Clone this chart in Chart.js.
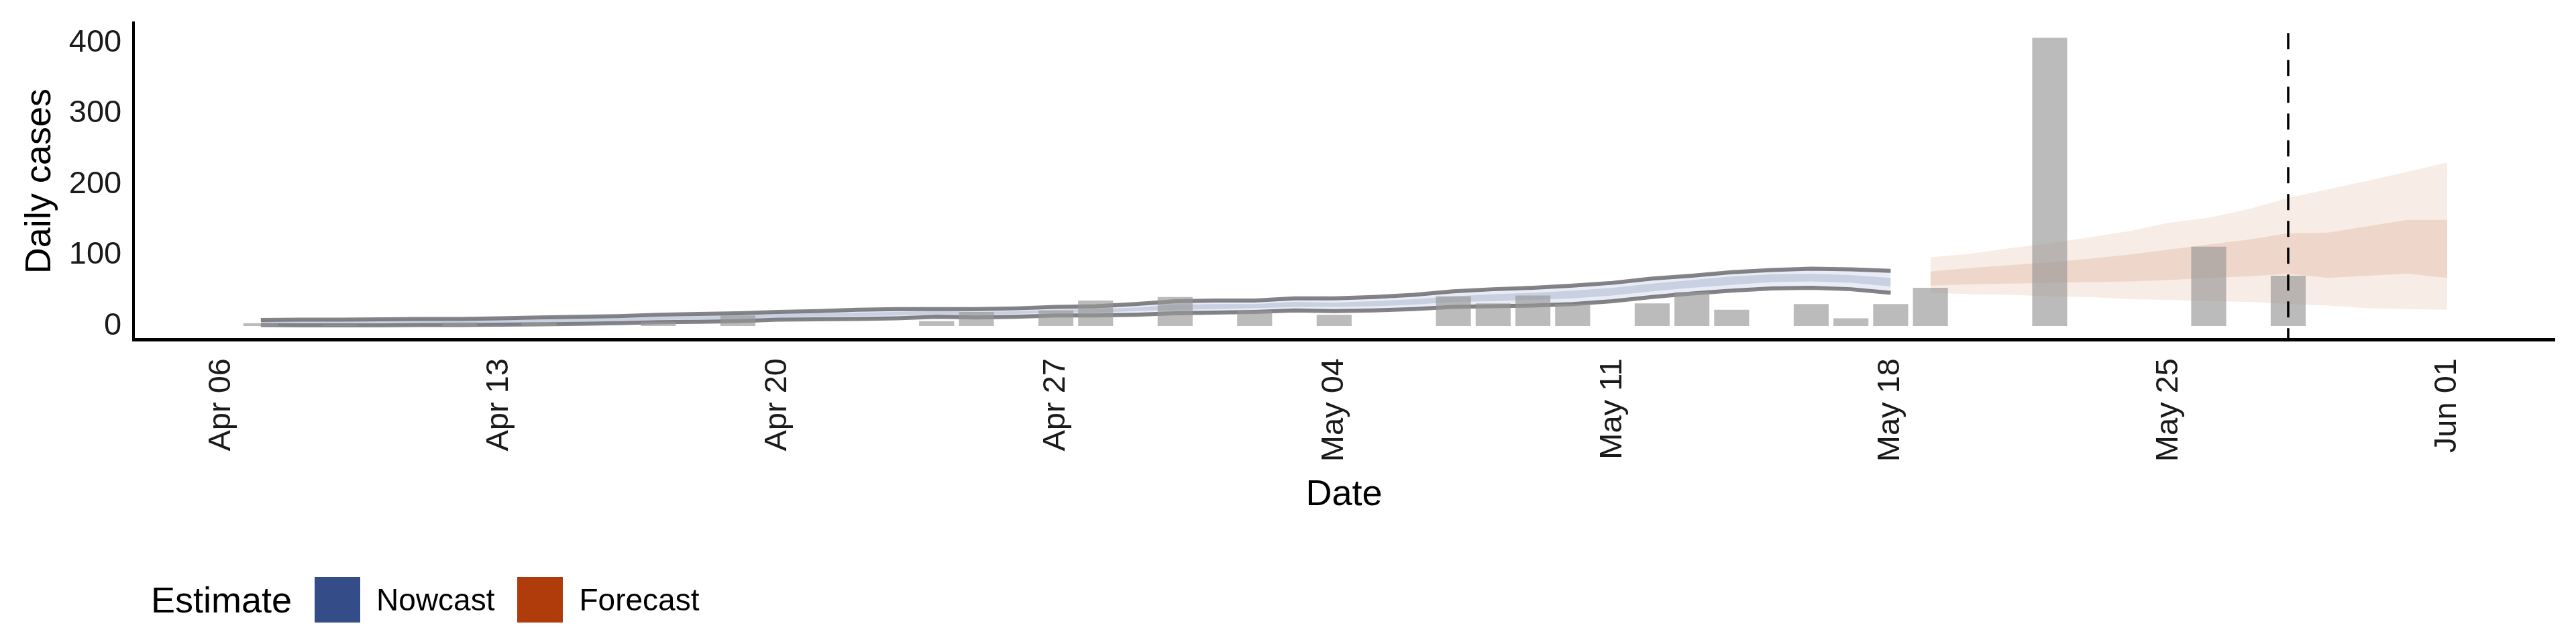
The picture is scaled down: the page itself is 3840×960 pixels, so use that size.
<!DOCTYPE html>
<html>
<head>
<meta charset="utf-8">
<script src="https://cdn.jsdelivr.net/npm/chart.js@4"></script>
<style>
  body { margin: 0; background: #fff; font-family: "Liberation Sans", Arial, sans-serif; }
  #wrap { position: relative; width: 3840px; height: 960px; }
  #legend { position: absolute; left: 225px; top: 860px; display: flex; align-items: center; font-size: 46px; color: #000; }
  #legend .box { width: 68px; height: 68px; margin: 0 24px 0 34px; }
</style>
</head>
<body>
<div id="wrap">
  <canvas id="chart" width="3840" height="960"></canvas>
  <div id="legend">
    <span style="font-size:54px">Estimate</span>
    <span class="box" style="background:#344d88"></span><span>Nowcast</span>
    <span class="box" style="background:#b03c0c"></span><span>Forecast</span>
  </div>
</div>
<script>
// day index 0 = Apr 06
const tickDays = [0, 7, 14, 21, 28, 35, 42, 49, 56]
const tickLabels = ['Apr 06', 'Apr 13', 'Apr 20', 'Apr 27', 'May 04', 'May 11', 'May 18', 'May 25', 'Jun 01']

// reported daily cases
const caseDays = [1, 3, 6, 8, 11, 13, 18, 19, 21, 22, 24, 26, 28, 31, 32, 33, 34, 36, 37, 38, 40, 41, 42, 43, 46, 50, 52]
const caseValues = [4, 2, 5, 5, 6, 15, 7, 20, 22, 36, 41, 22, 16, 42, 32, 43, 31, 32, 48, 23, 31, 11, 31, 54, 407, 112, 71]

// nowcast, days 1..42
const nowDays = [1,2,3,4,5,6,7,8,9,10,11,12,13,14,15,16,17,18,19,20,21,22,23,24,25,26,27,28,29,30,31,32,33,34,35,36,37,38,39,40,41,42]
const nowUpper90 = [8.5,9,9,9.5,10,10,11,12,13,14,16,17,18,20,21,23,24,24,24,25,27,28,31,35,36,36,39,39,41,44,49,52,54,57,61,67,71,76,79,81,80,78]
const nowLower90 = [1.5,1,1,1,1.5,1.5,2,2.5,3,4,5.5,6,7,9,9.5,10,11,13,12,13,15,15,16,18,19,20,22,21,22,24,27,28,29,31,35,41,46,50,53,54,52,47]
const nowUpper50 = [6,6.5,6.5,7,7.5,7.5,8.5,9,10,11,13,14,15,17,18,19,20,21,20,21,23,24,26,30,31,31,34,33,35,38,42,45,47,50,54,60,65,70,73,74,72,68]
const nowLower50 = [3.5,3.5,3.5,4,4,4,4.5,5,6,7,8.5,9,10,12,13,14,15,16,16,17,19,19,21,23,24,25,27,27,28,30,34,35,37,39,43,49,54,58,62,63,61,56]

// forecast, days 43..56
const fcDays = [43,44,45,46,47,48,49,50,51,52,53,54,55,56]
const fcUpper90 = [97,102,110,117,125,134,146,153,165,181,193,205,218,231]
const fcLower90 = [47,45,44,42,41,38,37,35,34,31,29,25,24,23]
const fcUpper50 = [77,82,86,90,95,101,108,115,122,131,132,141,150,150]
const fcLower50 = [57,59,60,61,62,63,65,68,70,74,68,71,74,68]

const dataDay = 52

const pts = (xs, ys) => xs.map((x, i) => ({ x, y: ys[i] }))

const band = (xs, ys, color, fill, order) => ({
    type: 'line', data: pts(xs, ys), borderWidth: 0, pointRadius: 0,
    backgroundColor: color, fill, order, tension: 0
})
const edge = (xs, ys) => ({
    type: 'line', data: pts(xs, ys), borderWidth: 6, pointRadius: 0,
    borderColor: 'rgba(85,85,90,0.72)', fill: false, order: 1
})

// dashed line on the date of the data
const dashLine = {
    id: 'dashLine',
    afterDatasetsDraw(chart) {
        const { ctx, chartArea, scales } = chart
        const x = scales.x.getPixelForValue(dataDay)
        ctx.save()
        ctx.strokeStyle = '#000'
        ctx.lineWidth = 3.5
        ctx.setLineDash([24, 16])
        ctx.beginPath()
        ctx.moveTo(x, chartArea.top + 15)
        ctx.lineTo(x, chartArea.bottom)
        ctx.stroke()
        ctx.restore()
    }
}

new Chart(document.getElementById('chart'), {
    type: 'bar',
    data: {
        datasets: [
            { type: 'bar', data: pts(caseDays, caseValues), backgroundColor: 'rgba(150,150,150,0.65)',
              barPercentage: 0.88, categoryPercentage: 1, order: 0 },
            edge(nowDays, nowUpper90),
            edge(nowDays, nowLower90),
            band(nowDays, nowUpper50, '#c9d0e1', '+1', 2),
            band(nowDays, nowLower50, 'transparent', false, 2),
            band(nowDays, nowUpper90, '#e9ecf4', '+1', 3),
            band(nowDays, nowLower90, 'transparent', false, 3),
            band(fcDays, fcUpper50, 'rgba(233,200,184,0.6)', '+1', 2),
            band(fcDays, fcLower50, 'transparent', false, 2),
            band(fcDays, fcUpper90, '#f8ece6', '+1', 3),
            band(fcDays, fcLower90, 'transparent', false, 3)
        ]
    },
    options: {
        responsive: false,
        animation: false,
        layout: { padding: { top: 28, right: 32, bottom: 185, left: 24 } },
        plugins: { legend: { display: false }, tooltip: { enabled: false } },
        scales: {
            x: {
                type: 'linear', min: -2.2, max: 58.7, offset: false,
                afterBuildTicks: axis => { axis.ticks = tickDays.map(v => ({ value: v })) },
                ticks: {
                    callback: v => tickLabels[tickDays.indexOf(v)],
                    minRotation: 90, maxRotation: 90, color: '#1a1a1a',
                    font: { family: 'Liberation Sans', size: 47 }, padding: 14
                },
                grid: { display: false, drawTicks: true, tickLength: 14, tickWidth: 4, tickColor: '#000' },
                border: { display: true, color: '#000', width: 5 },
                title: { display: true, text: 'Date', color: '#000', font: { family: 'Liberation Sans', size: 54 }, padding: 4 }
            },
            y: {
                min: -19, max: 428,
                afterBuildTicks: axis => { axis.ticks = [0, 100, 200, 300, 400].map(v => ({ value: v })) },
                ticks: { color: '#1a1a1a', font: { family: 'Liberation Sans', size: 47 }, padding: 6 },
                grid: { display: false, drawTicks: true, tickLength: 12, tickWidth: 4, tickColor: '#000' },
                border: { display: true, color: '#000', width: 4 },
                title: { display: true, text: 'Daily cases', color: '#000', font: { family: 'Liberation Sans', size: 54 }, padding: 4 }
            }
        }
    },
    plugins: [dashLine]
})
</script>
</body>
</html>
